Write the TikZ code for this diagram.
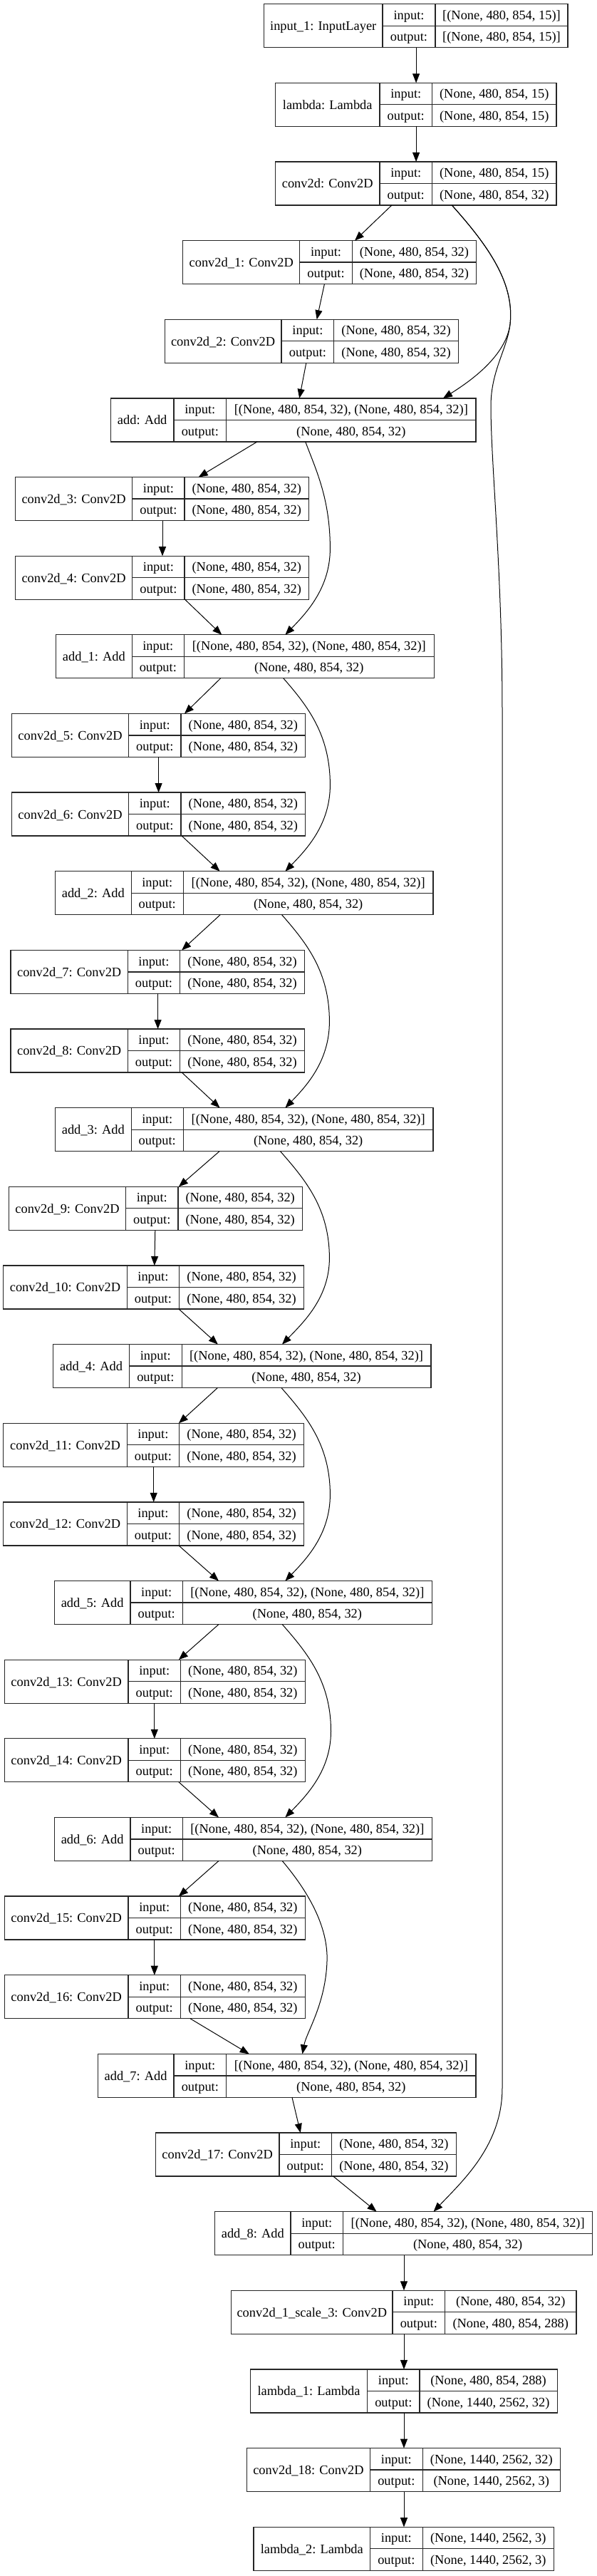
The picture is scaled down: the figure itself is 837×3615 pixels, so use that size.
\documentclass[tikz,border=0pt]{standalone}
\usepackage{fontspec}
\setmainfont{Liberation Serif}
\usetikzlibrary{arrows.meta}
\tikzset{
  lbox/.style={draw=black!85, line width=0.65pt, inner sep=0pt, outer sep=0pt, minimum height=30.5pt},
  cellline/.style={draw=black!85, line width=0.65pt},
  txt/.style={inner sep=0pt, outer sep=0pt, anchor=center, text height=0.9em, text depth=0.26em, font=\fontsize{9.2pt}{11pt}\selectfont},
  edge/.style={draw=black, line width=0.5pt, -{Triangle[length=6.5pt,width=5pt]}}
}
\newcommand{\layer}[9]{%
  \pgfmathsetmacro{\lyT}{5.7+110.64*#6}%
  \pgfmathsetmacro{\lyW}{(#5-#2)*0.5}%
  \pgfmathsetmacro{\lyX}{(#2+#5)/2}%
  \pgfmathsetmacro{\lyM}{\lyT+30.5}%
  \pgfmathsetmacro{\lyA}{\lyT+15.25}%
  \pgfmathsetmacro{\lyB}{\lyT+45.75}%
  \pgfmathsetmacro{\lyBot}{\lyT+61}%
  \pgfmathsetmacro{\lyLc}{(#2+#3)/2}%
  \pgfmathsetmacro{\lyIc}{(#3+#4)/2}%
  \pgfmathsetmacro{\lyVc}{(#4+#5)/2}%
  \node[lbox, minimum width=\lyW pt] (#1) at (\lyX,\lyM) {};
  \draw[cellline] (#3,\lyT) -- (#3,\lyBot) (#4,\lyT) -- (#4,\lyBot) (#3,\lyM) -- (#5,\lyM);
  \node[txt] (#1-name) at (\lyLc,\lyM) {#7};
  \node[txt] (#1-in) at (\lyIc,\lyA) {input:};
  \node[txt] (#1-out) at (\lyIc,\lyB) {output:};
  \node[txt] (#1-inv) at (\lyVc,\lyA) {#8};
  \node[txt] (#1-outv) at (\lyVc,\lyB) {#9};
}
\newcommand{\skipcurve}[7]{% src, dst, sx, X, ex, srclevel, first ctrl dx
  \pgfmathsetmacro{\scB}{5.7+110.64*#6+61}%
  \draw[edge] (#3,0 |- #1.south) .. controls (#3+#7, \scB+40) and (#4,\scB+80) .. (#4,\scB+150) .. controls (#4,\scB+205) and (#5+30,\scB+240) .. (#5,0 |- #2.north);
}
\newcommand{\sedge}[4]{% src, dst, x1, x2
  \draw[edge] (#3,0 |- #1.south) -- (#4,0 |- #2.north);
}
\def\sh{(None, 480, 854, 32)}
\def\shh{[(None, 480, 854, 32), (None, 480, 854, 32)]}
\begin{document}
\begin{tikzpicture}[x=0.5pt, y=-0.5pt]
\useasboundingbox[fill=white] (0,0) rectangle (837,3615);
\layer{input1}{370.5}{537}{611}{797}{0}{input\_1: InputLayer}{[(None, 480, 854, 15)]}{[(None, 480, 854, 15)]}
\layer{lambda0}{386.5}{533}{606.5}{781}{1}{lambda: Lambda}{(None, 480, 854, 15)}{(None, 480, 854, 15)}
\layer{conv0}{386.5}{533}{606.5}{781}{2}{conv2d: Conv2D}{(None, 480, 854, 15)}{\sh}
\layer{conv1}{256.8}{420.7}{494.4}{668.4}{3}{conv2d\_1: Conv2D}{\sh}{\sh}
\layer{conv2}{231.2}{395}{468.8}{643.4}{4}{conv2d\_2: Conv2D}{\sh}{\sh}
\layer{add0}{155.4}{244}{317.7}{668}{5}{add: Add}{\shh}{\sh}
\layer{conv3}{21.4}{185.8}{259}{433.5}{6}{conv2d\_3: Conv2D}{\sh}{\sh}
\layer{conv4}{21.4}{185.8}{259}{433.5}{7}{conv2d\_4: Conv2D}{\sh}{\sh}
\layer{add1}{78.5}{185.3}{258.4}{609.2}{8}{add\_1: Add}{\shh}{\sh}
\layer{conv5}{16.6}{180.5}{254.1}{428.7}{9}{conv2d\_5: Conv2D}{\sh}{\sh}
\layer{conv6}{16.6}{180.5}{254.1}{428.7}{10}{conv2d\_6: Conv2D}{\sh}{\sh}
\layer{add2}{77.4}{184.2}{257.3}{608.1}{11}{add\_2: Add}{\shh}{\sh}
\layer{conv7}{15}{179.4}{252.5}{427.7}{12}{conv2d\_7: Conv2D}{\sh}{\sh}
\layer{conv8}{15}{179.4}{252.5}{427.7}{13}{conv2d\_8: Conv2D}{\sh}{\sh}
\layer{add3}{77.4}{184.2}{257.3}{608.1}{14}{add\_3: Add}{\shh}{\sh}
\layer{conv9}{12.3}{176.7}{249.9}{424.5}{15}{conv2d\_9: Conv2D}{\sh}{\sh}
\layer{conv10}{4.8}{178.3}{251.5}{426.6}{16}{conv2d\_10: Conv2D}{\sh}{\sh}
\layer{add4}{74.7}{181.5}{255.2}{604.9}{17}{add\_4: Add}{\shh}{\sh}
\layer{conv11}{4.8}{178.3}{251.5}{426.6}{18}{conv2d\_11: Conv2D}{\sh}{\sh}
\layer{conv12}{4.8}{178.3}{251.5}{426.6}{19}{conv2d\_12: Conv2D}{\sh}{\sh}
\layer{add5}{76.3}{183.1}{256.3}{606.5}{20}{add\_5: Add}{\shh}{\sh}
\layer{conv13}{6.4}{179.9}{253.6}{428.2}{21}{conv2d\_13: Conv2D}{\sh}{\sh}
\layer{conv14}{6.4}{179.9}{253.6}{428.2}{22}{conv2d\_14: Conv2D}{\sh}{\sh}
\layer{add6}{76.3}{183.1}{256.3}{606.5}{23}{add\_6: Add}{\shh}{\sh}
\layer{conv15}{6.4}{179.9}{253.6}{428.2}{24}{conv2d\_15: Conv2D}{\sh}{\sh}
\layer{conv16}{6.4}{179.9}{253.6}{428.2}{25}{conv2d\_16: Conv2D}{\sh}{\sh}
\layer{add7}{137.2}{244}{317.7}{668}{26}{add\_7: Add}{\shh}{\sh}
\layer{conv17}{218.4}{391.9}{465.6}{640.2}{27}{conv2d\_17: Conv2D}{\sh}{\sh}
\layer{add8}{301.7}{407.9}{481.6}{831.8}{28}{add\_8: Add}{\shh}{\sh}
\layer{cscale}{324.6}{551}{624.7}{808.9}{29}{conv2d\_1\_scale\_3: Conv2D}{\sh}{(None, 480, 854, 288)}
\layer{lambda1}{351.3}{515.8}{588.9}{782.2}{30}{lambda\_1: Lambda}{(None, 480, 854, 288)}{(None, 1440, 2562, 32)}
\layer{conv18}{346.5}{519.5}{593.2}{786.4}{31}{conv2d\_18: Conv2D}{(None, 1440, 2562, 32)}{(None, 1440, 2562, 3)}
\layer{lambda2}{356.1}{519.5}{593.2}{777.4}{32}{lambda\_2: Lambda}{(None, 1440, 2562, 3)}{(None, 1440, 2562, 3)}
% straight chain edges
\sedge{input1}{lambda0}{584.1}{584.1}
\sedge{lambda0}{conv0}{584.1}{584.1}
\sedge{conv0}{conv1}{549.9}{498}
\sedge{conv1}{conv2}{455.4}{444.7}
\sedge{conv2}{add0}{429.8}{420.2}
\sedge{add0}{conv3}{361}{278.7}
\sedge{conv3}{conv4}{228}{228}
\sedge{conv4}{add1}{259.5}{311.3}
\sedge{add1}{conv5}{309.7}{259}
\sedge{conv5}{conv6}{222.6}{222.6}
\sedge{conv6}{add2}{255.2}{308.6}
\sedge{add2}{conv7}{309.1}{255.2}
\sedge{conv7}{conv8}{221.6}{221.6}
\sedge{conv8}{add3}{255.2}{308.6}
\sedge{add3}{conv9}{308}{250.9}
\sedge{conv9}{conv10}{217.8}{216.8}
\sedge{conv10}{add4}{250.9}{305.9}
\sedge{add4}{conv11}{305.4}{250.9}
\sedge{conv11}{conv12}{215.7}{215.7}
\sedge{conv12}{add5}{250.9}{307}
\sedge{add5}{conv13}{307}{250.9}
\sedge{conv13}{conv14}{216.8}{216.8}
\sedge{conv14}{add6}{250.9}{307}
\sedge{add6}{conv15}{307}{250.9}
\sedge{conv15}{conv16}{216.8}{216.8}
\sedge{conv16}{add7}{267}{349.7}
\sedge{add7}{conv17}{410}{421.8}
\sedge{conv17}{add8}{467.7}{528.6}
\sedge{add8}{cscale}{567}{567}
\sedge{cscale}{lambda1}{567}{567}
\sedge{lambda1}{conv18}{567}{567}
\sedge{conv18}{lambda2}{567}{567}
% residual curves
\skipcurve{add0}{add1}{428.7}{463.4}{400.4}{5}{15}
\skipcurve{add1}{add2}{397.8}{463.4}{400.4}{8}{35}
\skipcurve{add2}{add3}{395.6}{462.4}{400.4}{11}{35}
\skipcurve{add3}{add4}{393.5}{462.4}{396}{14}{35}
\skipcurve{add4}{add5}{395}{463.4}{400.4}{17}{35}
\skipcurve{add5}{add6}{396.2}{464.5}{400.4}{20}{35}
\draw[edge] (396.2,0 |- add6.south) .. controls (431,2652.5) and (461,2702.5) .. (459,2752.5) .. controls (457,2812.5) and (430,2852.5) .. (424.5,0 |- add7.north);
% long skips from conv2d
\draw[edge] (634.3,0 |- conv0.south) .. controls (690,350) and (722,400) .. (716,455) .. controls (710,500) and (660,535) .. (622,0 |- add0.north);
\draw[edge] (634.3,0 |- conv0.south) .. controls (690,350) and (722,400) .. (716,455) .. controls (712,490) and (689,520) .. (689,570) .. controls (689,650) and (705,800) .. (705,1000) -- (705,2930) .. controls (705,3010) and (650,3060) .. (608.6,0 |- add8.north);
\end{tikzpicture}
\end{document}
